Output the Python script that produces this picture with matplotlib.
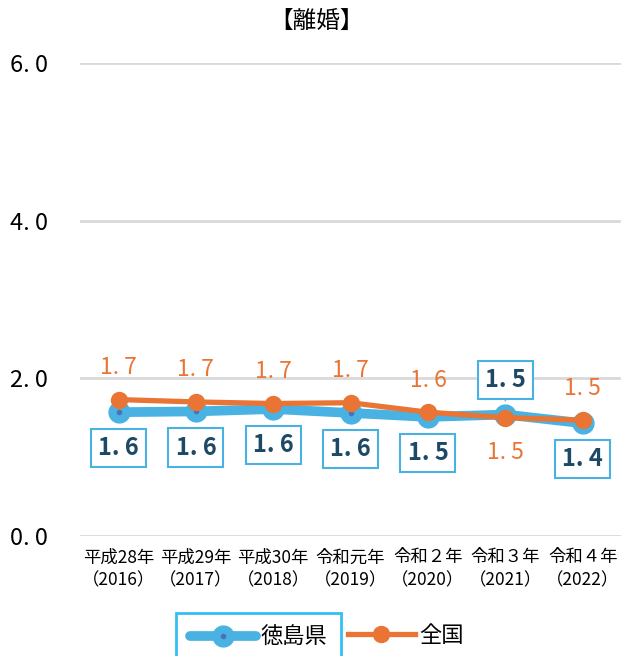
import matplotlib.pyplot as plt
from matplotlib.legend_handler import HandlerTuple

plt.rcParams['font.family'] = ['Noto Sans CJK JP', 'DejaVu Sans']

# data
years = ['平成28年\n（2016）', '平成29年\n（2017）', '平成30年\n（2018）', '令和元年\n（2019）',
         '令和２年\n（2020）', '令和３年\n（2021）', '令和４年\n（2022）']
tokushima = [1.57, 1.58, 1.61, 1.56, 1.51, 1.54, 1.43]
zenkoku = [1.73, 1.70, 1.68, 1.69, 1.57, 1.50, 1.47]
yticks = [0, 2, 4, 6]

# label placement: +1 above, -1 below
zen_side = [1, 1, 1, 1, 1, -1, 1]
tok_side = [-1, -1, -1, -1, -1, 1, -1]

blue = '#4ab2e2'
orange = '#e97434'
navy = '#1c4966'
num_font = ['Noto Sans CJK JP', 'DejaVu Sans']


def fmt(v):
    # the source puts a gap after the decimal point
    return f'{v:.1f}'.replace('.', '. ')


fig = plt.figure(figsize=(6.34, 6.56), dpi=100)
ax = fig.add_axes([0.126, 0.183, 0.854, 0.721])

x = list(range(len(years)))

ax.set_axisbelow(True)
ax.grid(axis='y', color='#d9d9d9', linewidth=2)

l1, = ax.plot(x, tokushima, color=blue, linewidth=7, marker='o', markersize=15,
              solid_capstyle='round', zorder=3)
d1, = ax.plot(x, tokushima, linestyle='none', marker='o', markersize=3,
              color='#4a72b8', zorder=3)
l2, = ax.plot(x, zenkoku, color=orange, linewidth=3.8, marker='o', markersize=11.5,
              zorder=4)

# national labels (plain orange text)
for i, v in enumerate(zenkoku):
    dy = 23 if zen_side[i] > 0 else -25
    ax.annotate(fmt(v), (i, v), xytext=(0, dy), textcoords='offset points',
                ha='center', va='center', color=orange, fontsize=16.5, family=num_font)

# Tokushima labels (boxed)
for i, v in enumerate(tokushima):
    dy = 25 if tok_side[i] > 0 else -26
    if tok_side[i] > 0:
        arrow = dict(arrowstyle='-', color='#a6a6a6', lw=1.2, shrinkA=0, shrinkB=-10)
    else:
        arrow = None
    ax.annotate(fmt(v), (i, v), xytext=(0, dy), textcoords='offset points',
                ha='center', va='center', color=navy, fontsize=17, fontweight='bold',
                family=num_font, arrowprops=arrow, zorder=5,
                bbox=dict(boxstyle='square,pad=0.3', facecolor='white',
                          edgecolor=blue, linewidth=1.5))

ax.set_xlim(-0.5, len(years) - 0.5)
ax.set_ylim(0, 6)
ax.set_xticks(x)
ax.set_xticklabels(years, fontsize=12.5, linespacing=1.35)
ax.set_yticks(yticks)
ax.set_yticklabels([fmt(t) for t in yticks], fontsize=17, family=num_font)
ax.tick_params(axis='both', length=0)
ax.tick_params(axis='x', pad=9)
ax.tick_params(axis='y', pad=23)
for s in ax.spines.values():
    s.set_visible(False)

fig.text(0.5, 0.968, '【離婚】', ha='center', va='center', fontsize=17)

leg1 = fig.legend([(l1, d1)], ['徳島県'], handler_map={tuple: HandlerTuple(ndivide=1)},
                  loc='center', bbox_to_anchor=(0.408, 0.028), fontsize=16,
                  handlelength=3.0, frameon=True, fancybox=False, borderpad=0.6,
                  handletextpad=0.2)
leg1.get_frame().set_edgecolor('#00b0f0')
leg1.get_frame().set_linewidth(2)
fig.legend([l2], ['全国'], loc='center', bbox_to_anchor=(0.64, 0.032), fontsize=16,
           handlelength=3.0, frameon=False, handletextpad=0.2)

fig.savefig('out.png', dpi=100)
